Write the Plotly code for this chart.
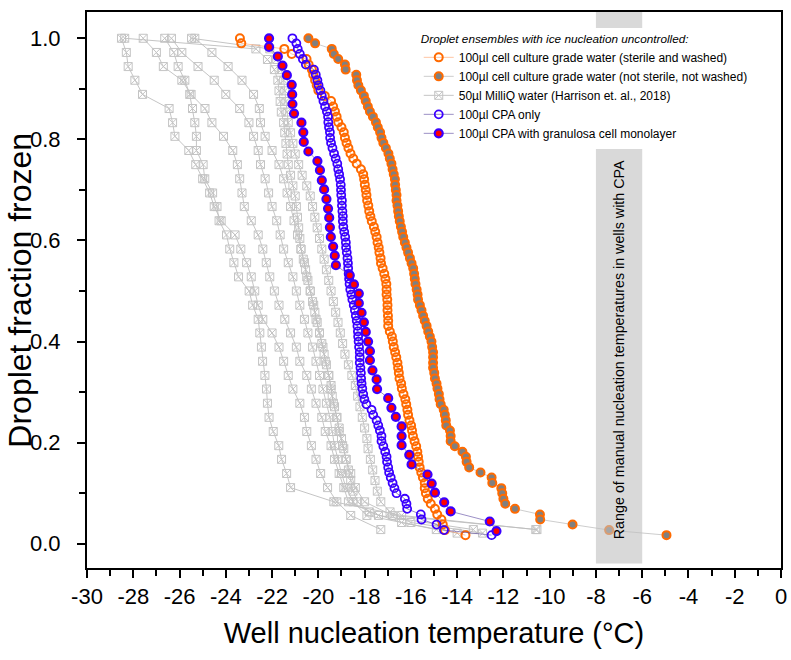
import plotly.graph_objects as go

# ---------------- data ----------------
frac96 = [1.000, 0.990, 0.979, 0.969, 0.959, 0.948, 0.938, 0.928, 0.917, 0.907,
          0.897, 0.886, 0.876, 0.865, 0.855, 0.845, 0.834, 0.824, 0.814, 0.803,
          0.793, 0.783, 0.772, 0.762, 0.752, 0.741, 0.731, 0.721, 0.710, 0.700,
          0.690, 0.679, 0.669, 0.658, 0.648, 0.638, 0.627, 0.617, 0.607, 0.596,
          0.586, 0.576, 0.565, 0.555, 0.545, 0.534, 0.524, 0.514, 0.503, 0.493,
          0.483, 0.472, 0.462, 0.451, 0.441, 0.431, 0.420, 0.410, 0.400, 0.389,
          0.379, 0.369, 0.358, 0.348, 0.338, 0.327, 0.317, 0.307, 0.296, 0.286,
          0.276, 0.265, 0.255, 0.244, 0.234, 0.224, 0.213, 0.203, 0.193, 0.182,
          0.172, 0.162, 0.151, 0.141, 0.131, 0.120, 0.110, 0.100, 0.089, 0.079,
          0.069, 0.058, 0.048, 0.038, 0.027, 0.017]

# 100 ul cell culture grade water (sterile and washed)
t_sterile = [-23.39, -23.33, -21.47, -21.15, -20.51, -20.42, -20.28, -20.22, -20.14, -20.07,
             -20.00, -19.72, -19.45, -19.36, -19.28, -19.21, -19.14, -19.00, -18.90, -18.85,
             -18.78, -18.70, -18.61, -18.49, -18.34, -18.16, -18.06, -18.02, -17.99, -17.95,
             -17.92, -17.89, -17.84, -17.80, -17.75, -17.69, -17.60, -17.54, -17.48, -17.44,
             -17.39, -17.36, -17.31, -17.29, -17.22, -17.15, -17.10, -17.06, -17.05, -17.05,
             -17.02, -17.01, -17.01, -16.99, -16.98, -16.98, -16.91, -16.82, -16.78, -16.74,
             -16.68, -16.63, -16.58, -16.55, -16.52, -16.49, -16.42, -16.39, -16.32, -16.24,
             -16.20, -16.15, -16.12, -16.06, -15.99, -15.95, -15.91, -15.84, -15.77, -15.72,
             -15.69, -15.66, -15.62, -15.55, -15.48, -15.40, -15.40, -15.35, -15.27, -15.14,
             -14.96, -14.86, -14.68, -14.62, -14.53, -13.64]

# 100 ul cell culture grade water (not sterile, not washed)
t_nonsterile = [-20.43, -20.14, -19.42, -19.33, -19.14, -18.85, -18.82, -18.36, -18.33, -18.27,
                -18.16, -18.03, -17.95, -17.86, -17.77, -17.64, -17.51, -17.43, -17.33, -17.27,
                -17.19, -17.08, -16.97, -16.91, -16.84, -16.79, -16.74, -16.69, -16.68, -16.65,
                -16.62, -16.62, -16.58, -16.55, -16.52, -16.48, -16.43, -16.38, -16.33, -16.26,
                -16.19, -16.12, -16.04, -15.97, -15.90, -15.86, -15.83, -15.80, -15.75, -15.71,
                -15.69, -15.61, -15.54, -15.47, -15.40, -15.32, -15.25, -15.18, -15.11, -15.08,
                -15.04, -15.04, -15.04, -15.04, -14.99, -14.96, -14.89, -14.85, -14.79, -14.76,
                -14.71, -14.58, -14.53, -14.49, -14.47, -14.31, -14.28, -14.28, -14.10, -13.77,
                -13.62, -13.59, -13.48, -12.99, -12.51, -12.48, -12.09, -12.05, -12.00, -11.92,
                -11.50, -10.42, -10.41, -9.01, -7.43, -4.95]

# 100 ul CPA only
t_cpa = [-21.12, -20.95, -20.89, -20.80, -20.67, -20.54, -20.19, -20.11, -20.04, -19.99,
         -19.91, -19.85, -19.78, -19.71, -19.63, -19.58, -19.57, -19.54, -19.50, -19.49,
         -19.45, -19.39, -19.32, -19.25, -19.18, -19.14, -19.10, -19.06, -19.03, -19.02,
         -19.01, -18.98, -18.98, -18.96, -18.94, -18.94, -18.92, -18.88, -18.84, -18.81,
         -18.80, -18.77, -18.74, -18.72, -18.71, -18.69, -18.67, -18.65, -18.62, -18.57,
         -18.53, -18.47, -18.42, -18.38, -18.34, -18.31, -18.29, -18.28, -18.26, -18.24,
         -18.21, -18.21, -18.21, -18.18, -18.16, -18.15, -18.13, -18.10, -18.06, -18.01,
         -17.92, -17.70, -17.63, -17.48, -17.41, -17.34, -17.27, -17.27, -17.19, -17.11,
         -17.05, -17.03, -16.98, -16.94, -16.87, -16.79, -16.71, -16.62, -16.26, -16.19,
         -16.16, -15.57, -15.54, -14.89, -14.57, -12.51]

# 100 ul CPA with granulosa cell monolayer
f_gran = [1.000, 0.983, 0.964, 0.946, 0.927, 0.908, 0.889, 0.870, 0.851, 0.833,
          0.814, 0.795, 0.776, 0.757, 0.739, 0.719, 0.701, 0.682, 0.663, 0.645,
          0.626, 0.607, 0.588, 0.570, 0.551, 0.531, 0.513, 0.495, 0.476, 0.457,
          0.438, 0.419, 0.400, 0.381, 0.363, 0.343, 0.325, 0.306, 0.288, 0.269,
          0.251, 0.232, 0.213, 0.195, 0.176, 0.157, 0.137, 0.119, 0.101, 0.082,
          0.064, 0.044, 0.025]
t_gran = [-22.13, -22.13, -21.75, -21.55, -21.36, -21.15, -21.13, -21.12, -21.05, -20.73,
          -20.65, -20.63, -20.43, -20.04, -19.93, -19.85, -19.75, -19.65, -19.58, -19.53,
          -19.50, -19.46, -19.36, -19.29, -19.24, -18.64, -18.46, -18.25, -18.25, -18.13,
          -18.03, -17.95, -17.85, -17.77, -17.77, -17.66, -17.48, -17.46, -16.98, -16.84,
          -16.65, -16.40, -16.40, -16.40, -16.07, -15.97, -15.28, -15.10, -14.96, -14.56,
          -14.28, -12.59, -12.30]

# 50 ul MilliQ water (Harrison et al., 2018) - several runs
frac36 = [1.000, 0.972, 0.944, 0.917, 0.889, 0.861, 0.833, 0.806, 0.778, 0.750,
          0.722, 0.694, 0.667, 0.639, 0.611, 0.583, 0.556, 0.528, 0.500, 0.472,
          0.444, 0.417, 0.389, 0.361, 0.333, 0.306, 0.278, 0.250, 0.222, 0.194,
          0.167, 0.139, 0.111, 0.083, 0.056, 0.028]
frac48 = [1.000, 0.979, 0.958, 0.938, 0.917, 0.896, 0.875, 0.854, 0.833, 0.813,
          0.792, 0.771, 0.750, 0.729, 0.708, 0.688, 0.667, 0.646, 0.625, 0.604,
          0.583, 0.563, 0.542, 0.521, 0.500, 0.479, 0.458, 0.438, 0.417, 0.396,
          0.375, 0.354, 0.333, 0.313, 0.292, 0.271, 0.250, 0.229, 0.208, 0.188,
          0.167, 0.146, 0.125, 0.104, 0.083, 0.063, 0.042, 0.021]

mq_run_a = [-26.64, -26.25, -26.06, -25.77, -25.56, -25.44, -25.34, -25.27, -25.27, -24.98,
            -24.91, -24.57, -24.38, -24.29, -23.97, -23.83, -23.65, -23.45, -22.99, -22.84,
            -22.60, -22.53, -22.46, -22.41, -22.31, -22.24, -22.20, -22.13, -21.95, -21.71,
            -21.59, -21.37, -21.20, -19.33, -16.40, -10.60]
mq_run_b = [-28.51, -28.30, -28.22, -27.93, -27.60, -26.45, -26.30, -26.20, -25.60, -25.30,
            -25.00, -24.70, -24.50, -24.20, -23.60, -23.35, -23.10, -22.90, -22.75, -22.60,
            -22.40, -22.00, -21.70, -21.50, -21.30, -21.10, -20.80, -20.60, -20.50, -20.30,
            -20.10, -19.90, -19.60, -19.20, -18.60, -17.30]
mq_run_c = [-27.57, -27.00, -26.70, -25.90, -25.50, -24.90, -24.60, -24.10, -23.70, -23.50,
            -23.40, -23.30, -23.20, -22.90, -22.60, -22.40, -22.25, -22.10, -21.90, -21.70,
            -21.45, -21.20, -20.95, -20.80, -20.50, -20.30, -20.10, -19.85, -19.70, -19.45,
            -19.30, -19.10, -18.90, -18.70, -17.40, -13.30]
mq_run_d = [-26.35, -25.90, -25.20, -24.50, -24.00, -23.40, -23.00, -22.80, -22.60, -22.50,
            -22.30, -22.15, -22.00, -21.80, -21.65, -21.50, -21.30, -21.10, -20.95, -20.80,
            -20.60, -20.45, -20.25, -20.10, -19.95, -19.80, -19.65, -19.50, -19.40, -19.30,
            -19.15, -19.00, -18.80, -18.50, -17.90, -14.90]
mq_run_e = [-25.34, -24.60, -23.90, -23.30, -22.80, -22.55, -22.50, -22.30, -22.00, -21.70,
            -21.50, -21.35, -21.20, -21.05, -20.90, -20.75, -20.60, -20.50, -20.35, -20.20,
            -20.10, -19.95, -19.80, -19.70, -19.55, -19.45, -19.35, -19.20, -19.10, -18.95,
            -18.80, -18.60, -18.40, -18.00, -16.80, -10.55]
mq_run_f = [-28.37, -22.70, -22.20, -21.90, -21.75, -21.70, -21.65, -21.60, -21.50, -21.45,
            -21.40, -21.35, -21.30, -21.20, -21.10, -21.00, -20.95, -20.90, -20.85, -20.80,
            -20.75, -20.65, -20.55, -20.45, -20.35, -20.25, -20.15, -20.05, -19.95, -19.85,
            -19.75, -19.65, -19.55, -19.45, -19.40, -19.30, -19.20, -19.10, -19.00, -18.90,
            -18.80, -18.70, -18.60, -18.50, -18.30, -17.80, -16.40, -14.00]
mq_run_g = [-25.48, -22.10, -21.80, -21.60, -21.50, -21.45, -21.40, -21.35, -21.30, -21.20,
            -21.10, -21.00, -20.85, -20.70, -20.50, -20.35, -20.25, -20.15, -20.05, -19.95,
            -19.85, -19.75, -19.65, -19.55, -19.45, -19.35, -19.25, -19.15, -19.05, -18.95,
            -18.85, -18.70, -18.55, -18.40, -18.30, -18.20, -18.10, -18.00, -17.90, -17.85,
            -17.75, -17.65, -17.55, -17.45, -17.30, -16.90, -16.00, -12.90]

mq_runs = [(mq_run_a, frac36), (mq_run_b, frac36), (mq_run_c, frac36), (mq_run_d, frac36),
           (mq_run_e, frac36), (mq_run_f, frac48), (mq_run_g, frac48)]

x_tick_vals = [-30, -28, -26, -24, -22, -20, -18, -16, -14, -12, -10, -8, -6, -4, -2, 0]
x_tick_text = ["-30", "-28", "-26", "-24", "-22", "-20", "-18", "-16", "-14", "-12",
               "-10", "-8", "-6", "-4", "-2", "0"]

legend_title = "Droplet ensembles with ice nucleation uncontrolled:"
name_sterile = "100µl cell culture grade water (sterile and washed)"
name_nonsterile = "100µl cell culture grade water (not sterile, not washed)"
name_mq = "50µl MilliQ water (Harrison et. al., 2018)"
name_cpa = "100µl CPA only"
name_gran = "100µl CPA with granulosa cell monolayer"
band_label = "Range of manual nucleation temperatures in wells with CPA"
band_range = [-8, -6]
x_title = "Well nucleation temperature (°C)"
y_title = "Droplet fraction frozen"

# ---------------- figure ----------------
FONT = "Liberation Sans, Arial, sans-serif"
ORANGE = "#FF6A00"
BLUE = "#3A00FF"

fig = go.Figure()

for i, (tv, fv) in enumerate(mq_runs):
    fig.add_trace(go.Scatter(
        x=tv, y=fv, mode="lines+markers", name=name_mq,
        legendgroup="mq", showlegend=(i == 0), legendrank=3,
        line=dict(color="rgba(190,190,190,0.9)", width=1),
        marker=dict(symbol="square-x-open", size=8, color="#C4C4C4",
                    line=dict(width=1, color="#C4C4C4")),
    ))

fig.add_trace(go.Scatter(
    x=t_sterile, y=frac96, mode="lines+markers", name=name_sterile, legendrank=1,
    line=dict(color="rgba(255,150,90,0.55)", width=1),
    marker=dict(symbol="circle-open", size=8, color=ORANGE, line=dict(width=2, color=ORANGE)),
))
fig.add_trace(go.Scatter(
    x=t_nonsterile, y=frac96, mode="lines+markers", name=name_nonsterile, legendrank=2,
    line=dict(color="rgba(200,200,200,0.9)", width=1),
    marker=dict(symbol="circle", size=8, color="#808080", line=dict(width=2, color=ORANGE)),
))
fig.add_trace(go.Scatter(
    x=t_cpa, y=frac96, mode="lines+markers", name=name_cpa, legendrank=4,
    line=dict(color="rgba(90,70,160,0.6)", width=1),
    marker=dict(symbol="circle-open", size=8, color=BLUE, line=dict(width=1.8, color=BLUE)),
))
fig.add_trace(go.Scatter(
    x=t_gran, y=f_gran, mode="lines+markers", name=name_gran, legendrank=5,
    line=dict(color="rgba(90,70,160,0.6)", width=1),
    marker=dict(symbol="circle", size=8, color="#FF0000", line=dict(width=2.2, color=BLUE)),
))

fig.add_shape(type="rect", xref="x", yref="y",
              x0=band_range[0], x1=band_range[1], y0=-0.039, y1=1.052,
              fillcolor="#BFBFBF", opacity=0.6, line=dict(width=0), layer="above")
fig.add_annotation(x=sum(band_range) / 2, y=0.383, xref="x", yref="y",
                   text=band_label, textangle=-90, showarrow=False,
                   font=dict(family=FONT, size=14.3, color="black"))
# y-axis title placed as paper annotation so it can sit close to the tick labels
fig.add_annotation(x=-0.097, y=0.5, xref="paper", yref="paper",
                   text=y_title, textangle=-90, showarrow=False,
                   xanchor="center", yanchor="middle", borderpad=0,
                   font=dict(family=FONT, size=32, color="black"))

axis_common = dict(
    showline=True, linewidth=2, linecolor="black", mirror=True,
    showgrid=False, zeroline=False, ticks="outside", ticklen=8, tickwidth=1.5,
    tickcolor="black", tickfont=dict(family=FONT, size=22, color="black"),
    automargin=False,
)

fig.update_layout(
    width=791, height=660,
    margin=dict(l=87, r=10, t=12, b=92),
    paper_bgcolor="white", plot_bgcolor="white",
    font=dict(family=FONT, color="black"),
    xaxis=dict(range=[-30, 0], tickmode="array", tickvals=x_tick_vals, ticktext=x_tick_text,
               minor=dict(dtick=1, tick0=-30, ticks="outside", ticklen=6, tickwidth=1.5,
                          tickcolor="black"),
               ticklabelstandoff=0,
               title=dict(text=x_title, font=dict(family=FONT, size=29), standoff=14),
               **axis_common),
    yaxis=dict(range=[-0.048, 1.052], tick0=0, dtick=0.2, tickformat=".1f",
               minor=dict(dtick=0.1, ticks="outside", ticklen=6, tickwidth=1.5, tickcolor="black"),
               ticklabelstandoff=12,
               **axis_common),
    legend=dict(x=0.478, y=0.972, xanchor="left", yanchor="top",
                bgcolor="white", borderwidth=0,
                font=dict(family=FONT, size=12, color="black"),
                title=dict(text="<i>" + legend_title + "</i>",
                           font=dict(family=FONT, size=11.75, color="black")),
                itemwidth=30, tracegroupgap=0),
)

# remove the browser's default 8px page margin so the figure fills the 791x660 window
fig.write_html("out.html",
               config={"displayModeBar": False},
               post_script="document.body.style.margin='0';document.body.style.overflow='hidden';")
